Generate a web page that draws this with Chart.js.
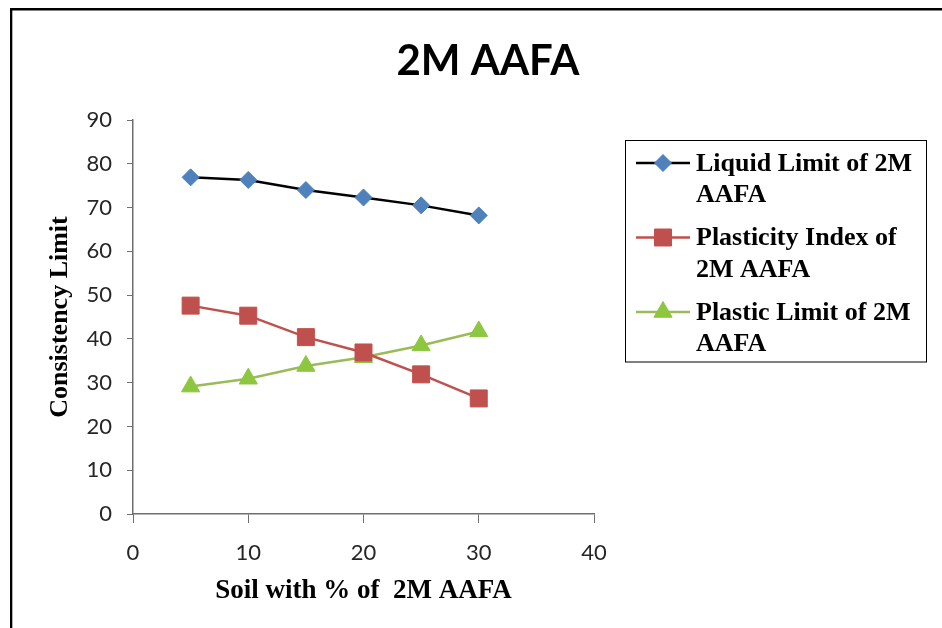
<!DOCTYPE html>
<html><head><meta charset="utf-8">
<script src="https://cdn.jsdelivr.net/npm/chart.js@4.4.1/dist/chart.umd.min.js"></script>
<style>html,body{margin:0;padding:0;background:#fff}#wrap{width:942px;height:628px}</style>
</head><body><div id="wrap"><canvas id="c" width="942" height="628"></canvas></div>
<script>
const chartTitle = '2M AAFA';
const xAxisTitle = 'Soil with % of  2M AAFA';
const yAxisTitle = 'Consistency Limit';
const soilPercent = [5, 10, 15, 20, 25, 30];
const liquidLimit = [76.9, 76.3, 74.0, 72.3, 70.5, 68.2];
const plasticityIndex = [47.6, 45.3, 40.4, 36.9, 31.9, 26.4];
const plasticLimit = [29.1, 30.9, 33.8, 35.8, 38.5, 41.7];
const seriesNames = ['Liquid Limit of 2M AAFA', 'Plasticity Index of 2M AAFA', 'Plastic Limit of 2M AAFA'];
const xTickValues = [0, 10, 20, 30, 40];
const yTickValues = [0, 10, 20, 30, 40, 50, 60, 70, 80, 90];

const SERIF = '"Liberation Serif", "Times New Roman", serif';
const SANS = 'Lato, "Open Sans", sans-serif';

function pts(ys){ return soilPercent.map((x,i)=>({x:x,y:ys[i]})); }

const styles = [
  {line:'#000000', fill:'#4F81BD', shape:'rectRot', r:8.5},
  {line:'#C0504D', fill:'#C0504D', shape:'rect', r:12},
  {line:'#9BBB59', fill:'#8DC63F', shape:'triangle', r:10.5}
];
const values = [liquidLimit, plasticityIndex, plasticLimit];

const datasets = values.map((v,i)=>({
  label: seriesNames[i],
  data: pts(v),
  borderColor: styles[i].line,
  borderWidth: 2.5,
  pointStyle: styles[i].shape,
  pointRadius: styles[i].r,
  pointHoverRadius: styles[i].r,
  pointBackgroundColor: styles[i].fill,
  pointBorderColor: styles[i].fill,
  pointBorderWidth: 1,
  tension: 0,
  fill: false
}));

function drawMarker(ctx, shape, x, y, r, color){
  ctx.save();
  ctx.fillStyle = color; ctx.strokeStyle = color; ctx.lineWidth = 1;
  ctx.beginPath();
  if (shape === 'rectRot'){
    ctx.moveTo(x - r, y); ctx.lineTo(x, y - r); ctx.lineTo(x + r, y); ctx.lineTo(x, y + r);
  } else if (shape === 'rect'){
    const s = r * Math.SQRT1_2; ctx.rect(x - s, y - s, 2*s, 2*s);
  } else {
    for (let k=0;k<3;k++){ const a = k*2*Math.PI/3; const px = x + Math.sin(a)*r, py = y - Math.cos(a)*r; if(k===0) ctx.moveTo(px,py); else ctx.lineTo(px,py); }
  }
  ctx.closePath(); ctx.fill(); ctx.stroke();
  ctx.restore();
}

function wrapText(ctx, text, maxW){
  const words = text.split(' '); const lines = []; let cur = '';
  words.forEach(w=>{ const t = cur ? cur + ' ' + w : w; if (ctx.measureText(t).width > maxW && cur){ lines.push(cur); cur = w; } else cur = t; });
  if (cur) lines.push(cur);
  return lines;
}

const decor = {
  id: 'decor',
  beforeDraw(chart){
    const ctx = chart.ctx; ctx.save();
    ctx.fillStyle = '#fff'; ctx.fillRect(0,0,chart.width,chart.height);
    ctx.fillStyle = '#000';
    ctx.fillRect(10, 8, chart.width - 10, 2.5);
    ctx.fillRect(10, 8, 2.3, chart.height - 8);
    ctx.restore();
  },
  afterDraw(chart){
    const ctx = chart.ctx; ctx.save();
    ctx.fillStyle = '#000';
    ctx.font = 'bold 42px ' + SANS;
    ctx.textAlign = 'center'; ctx.textBaseline = 'middle';
    ctx.fillText(chartTitle, 488, 61);
    const L = 625.5, T = 140.5, W = 301, H = 221.5;
    ctx.strokeStyle = '#000'; ctx.lineWidth = 1;
    ctx.strokeRect(L, T, W, H);
    ctx.font = 'bold 26px ' + SERIF;
    ctx.textAlign = 'left'; ctx.textBaseline = 'middle';
    const rowStep = 74.5, lineH = 31.5;
    chart.data.datasets.forEach((ds, i)=>{
      const cy = T + 22.5 + i*rowStep;
      ctx.strokeStyle = ds.borderColor; ctx.lineWidth = 2.5;
      ctx.beginPath(); ctx.moveTo(636, cy); ctx.lineTo(690, cy); ctx.stroke();
      drawMarker(ctx, ds.pointStyle, 663, cy, ds.pointStyle === 'rect' ? 12 : ds.pointRadius, ds.pointBackgroundColor);
      ctx.fillStyle = '#000';
      const lines = wrapText(ctx, ds.label, 228);
      lines.forEach((ln, k)=> ctx.fillText(ln, 696, cy + k*lineH + 1));
    });
    ctx.restore();
  }
};

new Chart(document.getElementById('c'), {
  type: 'line',
  data: { datasets },
  plugins: [decor],
  options: {
    responsive: false,
    animation: false,
    devicePixelRatio: 1,
    layout: { padding: { top: 120, right: 348, bottom: 0, left: 0 } },
    plugins: { legend: { display: false }, title: { display: false }, tooltip: { enabled: false } },
    scales: {
      x: {
        type: 'linear', min: 0, max: 40,
        afterBuildTicks: s => { s.ticks = xTickValues.map(v=>({value:v})); },
        afterFit: s => { s.height = 114; },
        grid: { drawOnChartArea: false, drawTicks: true, tickLength: 9, color: '#6f6f6f', tickColor: '#6f6f6f' },
        border: { display: true, color: '#6f6f6f', width: 1.5 },
        ticks: { color: '#262626', font: { family: SANS, size: 22 }, padding: 17, maxRotation: 0 },
        title: { display: true, text: xAxisTitle, color: '#000', font: { family: SERIF, size: 27, weight: 'bold' }, padding: { top: 0, bottom: 21 } }
      },
      y: {
        type: 'linear', min: 0, max: 90,
        afterBuildTicks: s => { s.ticks = yTickValues.map(v=>({value:v})); },
        afterFit: s => { s.width = 133; },
        grid: { drawOnChartArea: false, drawTicks: true, tickLength: 6, color: '#6f6f6f', tickColor: '#6f6f6f' },
        border: { display: true, color: '#6f6f6f', width: 1.5 },
        ticks: { color: '#262626', font: { family: SANS, size: 22 }, padding: 15 },
        title: { display: true, text: yAxisTitle, color: '#000', font: { family: SERIF, size: 26, weight: 'bold' }, padding: { top: 45, bottom: 0 } }
      }
    }
  }
});
</script></body></html>
